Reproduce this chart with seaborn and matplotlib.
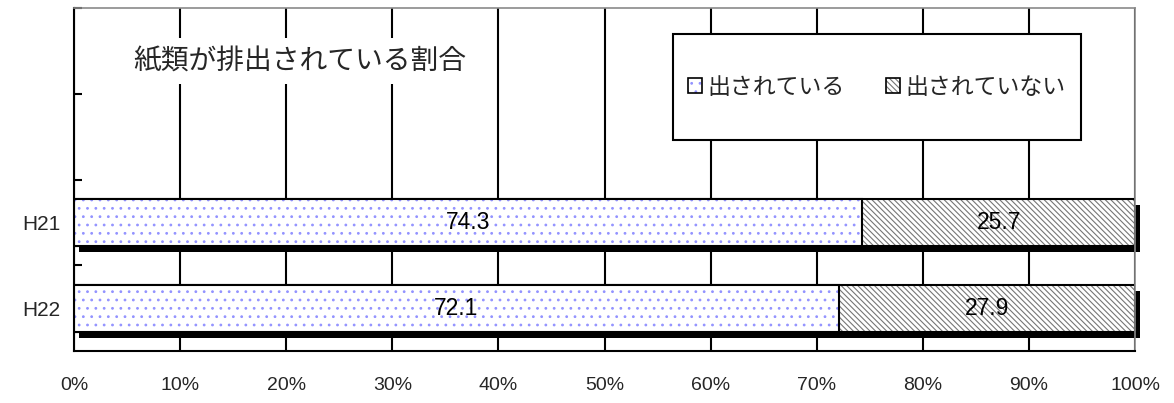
import matplotlib
matplotlib.use("Agg")
import matplotlib.pyplot as plt
from matplotlib.colors import to_rgba
from matplotlib.patches import Rectangle
from matplotlib.transforms import ScaledTranslation
import seaborn as sns
import pandas as pd

# Survey results: share of households putting out paper waste (%)
years = ["H21", "H22"]
put_out = [74.3, 72.1]
not_put_out = [25.7, 27.9]
series_names = ["出されている", "出されていない"]
x_tick_values = [0, 10, 20, 30, 40, 50, 60, 70, 80, 90, 100]
x_tick_labels = [f"{v}%" for v in x_tick_values]
title_text = "紙類が排出されている割合"

df = pd.DataFrame({"year": years, "out": put_out, "not_out": not_put_out})
df["total"] = df["out"] + df["not_out"]

sns.set_style("white")
plt.rcParams["font.family"] = ["Liberation Sans", "Noto Sans CJK JP"]
plt.rcParams["hatch.linewidth"] = 0.8

W, H = 1174, 403
fig = plt.figure(figsize=(W / 100, H / 100), dpi=100)
ax = fig.add_axes([74 / W, 1 - 351 / H, 1061 / W, 343 / H])

BAR_W = 0.55

# full-length bar (hatched), the "not put out" part shows to the right
sns.barplot(data=df, y="year", x="total", orient="h", color="white",
            edgecolor="black", linewidth=1.5, width=BAR_W, errorbar=None,
            ax=ax, label=series_names[1])
# "put out" part drawn on top from the left
sns.barplot(data=df, y="year", x="out", orient="h", color="white",
            edgecolor="black", linewidth=1.5, width=BAR_W, errorbar=None,
            ax=ax, label=series_names[0])

total_bars = ax.containers[0]
out_bars = ax.containers[1]


def set_hatch(patch, pattern, color):
    patch.set_hatch(pattern)
    if hasattr(patch, "set_hatchcolor"):
        patch.set_hatchcolor(color)
    else:
        patch._hatch_color = to_rgba(color)


# solid drop shadow behind each full bar
shadow_shift = ax.transData + ScaledTranslation(5 / 100, -6 / 100, fig.dpi_scale_trans)
for p in total_bars:
    set_hatch(p, "\\\\\\\\\\\\", "#767676")
    ax.add_patch(Rectangle(p.get_xy(), p.get_width(), p.get_height(),
                           transform=shadow_shift, facecolor="black",
                           edgecolor="none", clip_on=False,
                           zorder=p.get_zorder() - 0.1))
for p in out_bars:
    set_hatch(p, "..", "#9393ff")

# value labels centred in each segment
for i, (a, b) in enumerate(zip(put_out, not_put_out)):
    ax.text(a / 2, i, f"{a:.1f}", ha="center", va="center", fontsize=16.5,
            color="black", zorder=6)
    ax.text(a + b / 2, i, f"{b:.1f}", ha="center", va="center", fontsize=16.5,
            color="black", zorder=6)

# axes ranges and ticks
ax.set_xlim(0, 100)
ax.set_ylim(1.5, -2.5)
ax.set_xticks(x_tick_values)
ax.set_xticklabels(x_tick_labels, fontsize=14)
ax.tick_params(axis="x", length=0, pad=19)
ax.set_yticks(range(len(years)))
ax.set_yticklabels(years, fontsize=15)
ax.tick_params(axis="y", which="major", length=0, pad=10)
ax.set_yticks([-2.5, -1.5, -0.5, 0.5], minor=True)
ax.tick_params(axis="y", which="minor", direction="in", length=6, width=1.5,
               color="black", left=True)
ax.set_xlabel("")
ax.set_ylabel("")

# vertical gridlines
ax.set_axisbelow(True)
ax.xaxis.grid(True, color="black", linewidth=1.5)
ax.yaxis.grid(False)

for side in ("left", "bottom"):
    ax.spines[side].set_color("black")
    ax.spines[side].set_linewidth(1.5)
for side in ("top", "right"):
    ax.spines[side].set_color("#8a8a8a")
    ax.spines[side].set_linewidth(1.2)

# chart title inside the plot area
ax.text((300 - 74) / 1061, (351 - 61) / 343, title_text, transform=ax.transAxes,
        ha="center", va="center", fontsize=20, family=["Noto Sans CJK JP"],
        zorder=5,
        bbox=dict(boxstyle="square,pad=0.3", facecolor="white", edgecolor="none"))

# legend box
ax.add_patch(Rectangle((599 / 1061, 211 / 343), 408 / 1061, 106 / 343,
                       transform=ax.transAxes, facecolor="white",
                       edgecolor="black", linewidth=1.5, zorder=6,
                       clip_on=False))
leg = ax.legend(handles=[out_bars[0], total_bars[0]], labels=series_names,
                loc="center", bbox_to_anchor=((599 + 204) / 1061, (211 + 53) / 343),
                ncol=2, frameon=False, handlelength=0.6,
                handleheight=0.6, handletextpad=0.25, columnspacing=1.8,
                prop={"family": ["Noto Sans CJK JP"], "size": 16.5})
leg.set_zorder(7)
for h in leg.legend_handles:
    h.set_linewidth(1.2)

fig.savefig("out.png", dpi=100)
